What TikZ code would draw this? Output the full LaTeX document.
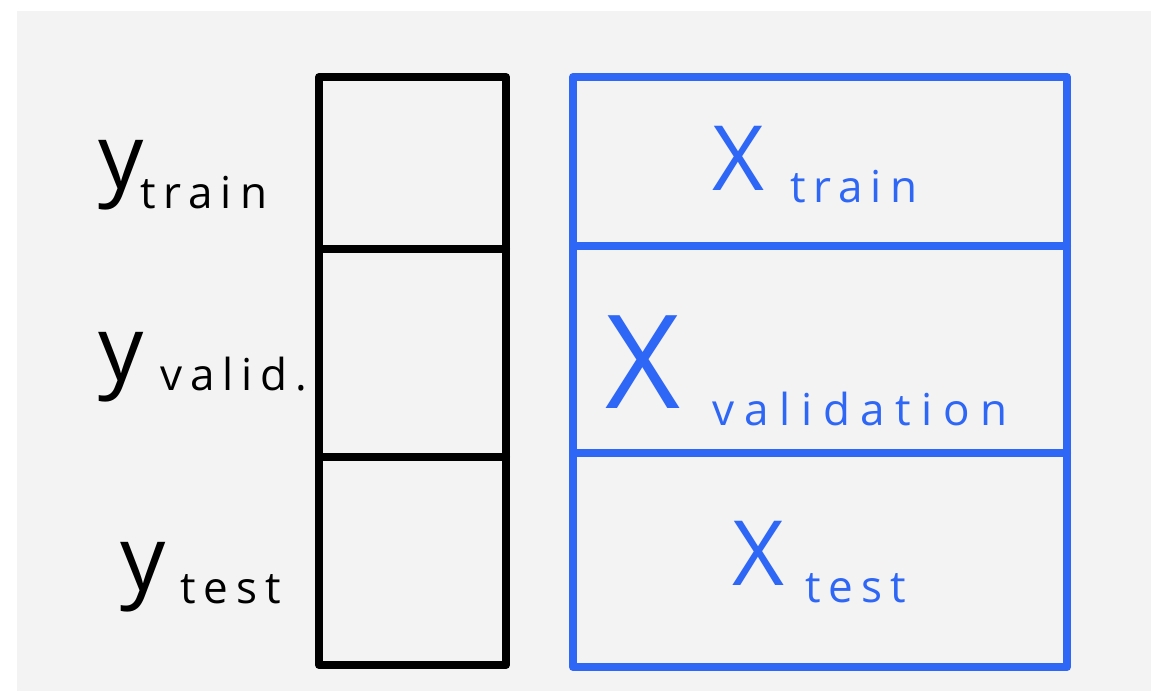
\documentclass[tikz,border=0pt]{standalone}
\usepackage{fontspec}
\setmainfont{Open Sans}
\newfontfamily\subfont[LetterSpace=18]{Open Sans}
\newfontfamily\subwide[LetterSpace=24]{Open Sans}
\definecolor{bg}{HTML}{F3F3F3}
\definecolor{penblue}{RGB}{46,102,246}
\begin{document}
\begin{tikzpicture}[x=1pt,y=-1pt,
  pen/.style={line width=8pt,line join=round,line cap=round},
  big/.style={anchor=base west,inner sep=0pt,font=\fontsize{90}{90}\selectfont},
  sub/.style={anchor=base west,inner sep=0pt,font=\subfont\fontsize{44}{44}\selectfont}]
\useasboundingbox (0,0) rectangle (1151,691);
\fill[white] (0,0) rectangle (1151,691);
\fill[bg] (17,11) rectangle (1151,691);
% black column
\draw[pen,black] (319,77) rectangle (506,665);
\draw[pen,black] (319,249) -- (506,249);
\draw[pen,black] (319,457) -- (506,457);
% blue column
\draw[pen,penblue] (573,77) rectangle (1067,667);
\draw[pen,penblue] (573,246) -- (1067,246);
\draw[pen,penblue] (573,453) -- (1067,453);
% y labels
\node[big] (y1) at (98,188) {y};
\node[sub] (y1s) at (140,208) {train};
\node[big] (y2) at (98,380) {y};
\node[sub] (y2s) at (160,390) {valid.};
\node[big] (y3) at (120,590) {y};
\node[sub] (y3s) at (180,603) {test};
% X labels
\node[big,text=penblue] (x1) at (712,190) {X};
\node[sub,text=penblue] (x1s) at (790,202) {train};
\node[big,text=penblue,font=\fontsize{130}{130}\selectfont] (x2) at (605,408) {X};
\node[sub,text=penblue,font=\subwide\fontsize{44}{44}\selectfont] (x2s) at (712,425) {validation};
\node[big,text=penblue] (x3) at (732,585) {X};
\node[sub,text=penblue] (x3s) at (805,602) {test};
\end{tikzpicture}
\end{document}
